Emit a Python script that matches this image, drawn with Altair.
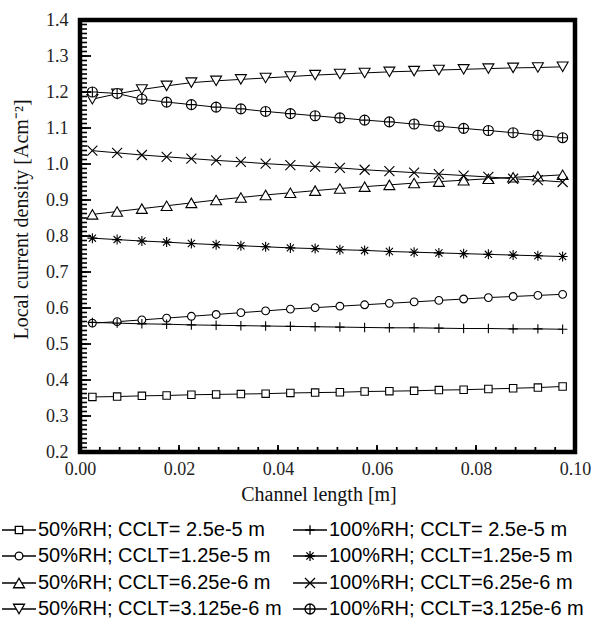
import altair as alt
import pandas as pd

# ---------------- data ----------------
x_pos = [0.0025, 0.0075, 0.0125, 0.0175, 0.0225, 0.0275, 0.0325, 0.0375, 0.0425, 0.0475,
         0.0525, 0.0575, 0.0625, 0.0675, 0.0725, 0.0775, 0.0825, 0.0875, 0.0925, 0.0975]

series_labels = [
    "50%RH; CCLT= 2.5e-5 m",
    "50%RH; CCLT=1.25e-5 m",
    "50%RH; CCLT=6.25e-6 m",
    "50%RH; CCLT=3.125e-6 m",
    "100%RH; CCLT= 2.5e-5 m",
    "100%RH; CCLT=1.25e-5 m",
    "100%RH; CCLT=6.25e-6 m",
    "100%RH; CCLT=3.125e-6 m",
]

rh50_cclt_25e5 = [0.353, 0.354, 0.356, 0.357, 0.359, 0.360, 0.361, 0.362, 0.364, 0.365,
                  0.366, 0.368, 0.369, 0.370, 0.372, 0.373, 0.375, 0.377, 0.379, 0.382]
rh50_cclt_125e5 = [0.558, 0.562, 0.567, 0.572, 0.577, 0.582, 0.587, 0.592, 0.597, 0.601,
                   0.605, 0.609, 0.613, 0.617, 0.621, 0.625, 0.629, 0.632, 0.635, 0.638]
rh50_cclt_625e6 = [0.860, 0.868, 0.876, 0.884, 0.892, 0.900, 0.907, 0.914, 0.920, 0.926,
                   0.932, 0.937, 0.942, 0.947, 0.951, 0.955, 0.959, 0.963, 0.966, 0.970]
rh50_cclt_3125e6 = [1.180, 1.195, 1.207, 1.217, 1.226, 1.231, 1.235, 1.239, 1.243, 1.247,
                    1.250, 1.253, 1.256, 1.258, 1.261, 1.263, 1.265, 1.267, 1.268, 1.270]
rh100_cclt_25e5 = [0.560, 0.558, 0.556, 0.555, 0.553, 0.552, 0.551, 0.550, 0.549, 0.548,
                   0.547, 0.546, 0.545, 0.545, 0.544, 0.543, 0.543, 0.542, 0.542, 0.541]
rh100_cclt_125e5 = [0.794, 0.790, 0.786, 0.783, 0.779, 0.776, 0.773, 0.770, 0.767, 0.765,
                    0.762, 0.760, 0.757, 0.755, 0.753, 0.751, 0.749, 0.747, 0.745, 0.743]
rh100_cclt_625e6 = [1.037, 1.031, 1.025, 1.020, 1.015, 1.010, 1.006, 1.001, 0.997, 0.993,
                    0.989, 0.984, 0.980, 0.976, 0.972, 0.968, 0.964, 0.959, 0.955, 0.950]
rh100_cclt_3125e6 = [1.200, 1.196, 1.180, 1.172, 1.165, 1.158, 1.153, 1.146, 1.140, 1.134,
                     1.128, 1.122, 1.117, 1.111, 1.105, 1.099, 1.093, 1.087, 1.080, 1.073]

all_series = [rh50_cclt_25e5, rh50_cclt_125e5, rh50_cclt_625e6, rh50_cclt_3125e6,
              rh100_cclt_25e5, rh100_cclt_125e5, rh100_cclt_625e6, rh100_cclt_3125e6]

x_label_values = [0.0, 0.02, 0.04, 0.06, 0.08, 0.10]
y_label_values = [0.2, 0.3, 0.4, 0.5, 0.6, 0.7, 0.8, 0.9, 1.0, 1.1, 1.2, 1.3, 1.4]

# ---------------- styling ----------------
PLUS = "M-1,0L1,0M0,-1L0,1"
XSHAPE = "M-1,-1L1,1M-1,1L1,-1"
ASTER = "M-1,0L1,0M0,-1L0,1M-0.72,-0.72L0.72,0.72M-0.72,0.72L0.72,-0.72"
CPLUS = "M-1,0A1,1,0,1,1,1,0A1,1,0,1,1,-1,0ZM-1,0L1,0M0,-1L0,1"
shapes = ["square", "circle", "triangle-up", "triangle-down", PLUS, ASTER, XSHAPE, CPLUS]
sizes = [55, 60, 120, 120, 90, 100, 100, 100]

W, H = 495, 432
SERIF = "Liberation Serif"
SANS = "Liberation Sans"

rows = []
for lab, vals in zip(series_labels, all_series):
    for xv, yv in zip(x_pos, vals):
        rows.append({"series": lab, "x": xv, "y": yv})
df = pd.DataFrame(rows)

xs = alt.Scale(domain=[0, 0.1], nice=False, zero=False, padding=0)
ys = alt.Scale(domain=[0.2, 1.4], nice=False, zero=False, padding=0)

x_axis = alt.Axis(values=x_label_values, format=".2f", ticks=False, domain=False, grid=False,
                  labelFlush=False, labelOverlap=False,
                  labelFont=SERIF, labelFontSize=18, labelColor="#222", labelPadding=8,
                  title="Channel length [m]", titleFont=SERIF, titleFontSize=20,
                  titleFontWeight="normal", titleColor="#111", titleY=42, titleX=W / 2 - 9,
                  titleAlign="center", titleBaseline="middle")
y_axis = alt.Axis(values=y_label_values, format=".1f", ticks=False, domain=False, grid=False,
                  labelFlush=False, labelOverlap=False,
                  labelFont=SERIF, labelFontSize=18, labelColor="#222", labelPadding=12,
                  title="Local current density [Acm⁻²]", titleFont=SERIF, titleFontSize=20,
                  titleFontWeight="normal", titleColor="#111", titleX=-59, titleY=199,
                  titleBaseline="middle", titleAlign="center", titleAngle=-90)


def X(field):
    return alt.X(field, scale=xs, axis=x_axis)


def Y(field):
    return alt.Y(field, scale=ys, axis=y_axis)


lines = alt.Chart(df).mark_line(color="black", strokeWidth=1).encode(
    x=X("x:Q"), y=Y("y:Q"), detail="series:N")

layers = [lines]
for lab, shp, sz in zip(series_labels, shapes, sizes):
    pts = alt.Chart(df).transform_filter(alt.datum.series == lab).mark_point(
        shape=shp, size=sz, filled=False, fill="white", stroke="black",
        strokeWidth=1.1, opacity=1
    ).encode(x=X("x:Q"), y=Y("y:Q"))
    layers.append(pts)

# inward tick marks
y_minor = [round(0.2 + 0.0125 * i, 4) for i in range(97)]
y_major = y_label_values
x_minor = [round(0.004 * i, 3) for i in range(26)]
x_major = x_label_values

layers.append(alt.Chart(pd.DataFrame({"v": y_minor})).mark_tick(
    orient="horizontal", size=7, thickness=1.6, color="black", opacity=1).encode(
    y=Y("v:Q"), x=alt.value(3.5)))
layers.append(alt.Chart(pd.DataFrame({"v": y_major})).mark_tick(
    orient="horizontal", size=11, thickness=1.8, color="black", opacity=1).encode(
    y=Y("v:Q"), x=alt.value(5.5)))
layers.append(alt.Chart(pd.DataFrame({"v": x_minor})).mark_tick(
    orient="vertical", size=5, thickness=1.8, color="black", opacity=1).encode(
    x=X("v:Q"), y=alt.value(H - 2.5)))
layers.append(alt.Chart(pd.DataFrame({"v": x_major})).mark_tick(
    orient="vertical", size=7, thickness=1.8, color="black", opacity=1).encode(
    x=X("v:Q"), y=alt.value(H - 3.5)))

# frame
frame_df = pd.DataFrame({"k": [0]})
layers.append(alt.Chart(frame_df).mark_rect(
    fill="white", fillOpacity=0, stroke="black", strokeWidth=4.5).encode(
    x=alt.value(0), x2=alt.value(W), y=alt.value(0), y2=alt.value(H)))

# custom legend below plot (2 columns x 4 rows)
col_marker = [-61, 230]
row_y = [510, 536, 563, 589]
for i, (lab, shp, sz) in enumerate(zip(series_labels, shapes, sizes)):
    c, r = divmod(i, 4)
    mx, my = col_marker[c], row_y[r]
    ld = pd.DataFrame({"series": [lab]})
    layers.append(alt.Chart(ld).mark_rule(color="black", strokeWidth=1.3).encode(
        x=alt.value(mx - 17), x2=alt.value(mx + 17), y=alt.value(my)))
    layers.append(alt.Chart(ld).mark_point(
        shape=shp, size=sz, filled=False, fill="white", stroke="black", strokeWidth=1.3, opacity=1
    ).encode(x=alt.value(mx), y=alt.value(my)))
    layers.append(alt.Chart(ld).mark_text(
        align="left", baseline="middle", font=SANS, fontSize=20, color="black"
    ).encode(x=alt.value(mx + 19), y=alt.value(my), text="series:N"))

chart = alt.layer(*layers).properties(
    width=W, height=H,
    padding={"left": 80, "top": 20, "right": 16, "bottom": 171},
    autosize=alt.AutoSizeParams(type="none"),
    background="white",
).configure_view(stroke=None)

chart.save("out.html", embed_options={"renderer": "svg", "actions": False})
